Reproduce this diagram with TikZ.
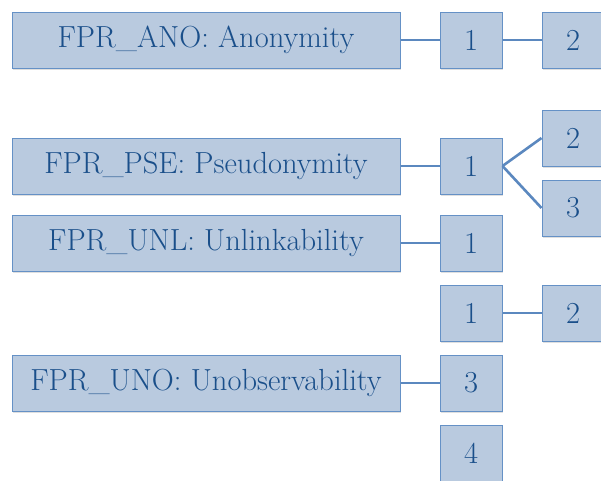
\documentclass[tikz,border=0pt]{standalone}
\usetikzlibrary{shadows}
\definecolor{boxfill}{HTML}{B9CADF}
\definecolor{boxline}{HTML}{6591C6}
\definecolor{boxtext}{HTML}{1A4F8A}
\definecolor{linkcol}{HTML}{5B88BF}
\begin{document}
\begin{tikzpicture}[x=1pt,y=-1pt,
  famBox/.style={draw=boxline,fill=boxfill,text=boxtext,line width=1pt,
    minimum width=388pt,minimum height=56pt,inner sep=0pt,
    font=\fontsize{30.5}{34}\selectfont,
    drop shadow={opacity=0.25,shadow xshift=1pt,shadow yshift=-1.5pt}},
  cmpBox/.style={famBox,minimum width=62pt},
  link/.style={draw=linkcol,line width=2.6pt}]
  \clip (0,0) rectangle (601,480);

  \node[famBox] (ano) at (206,40) {FPR\_ANO: Anonymity};
  \node[cmpBox] (ano1) at (471,40) {1};
  \node[cmpBox] (ano2) at (573,40) {2};

  \node[famBox] (pse) at (206,166) {FPR\_PSE: Pseudonymity};
  \node[cmpBox] (pse1) at (471,166) {1};
  \node[cmpBox] (pse2) at (573,138) {2};
  \node[cmpBox] (pse3) at (573,208) {3};

  \node[famBox] (unl) at (206,243) {FPR\_UNL: Unlinkability};
  \node[cmpBox] (unl1) at (471,243) {1};

  \node[cmpBox] (uno1) at (471,313) {1};
  \node[cmpBox] (uno2) at (573,313) {2};
  \node[famBox] (uno) at (206,383) {FPR\_UNO: Unobservability};
  \node[cmpBox] (uno3) at (471,383) {3};
  \node[cmpBox] (uno4) at (471,453) {4};

  \draw[link] (ano.east) -- (ano1.west);
  \draw[link] (ano1.east) -- (ano2.west);
  \draw[link] (pse.east) -- (pse1.west);
  \draw[link] (pse1.east) -- (pse2.west);
  \draw[link] (pse1.east) -- (pse3.west);
  \draw[link] (unl.east) -- (unl1.west);
  \draw[link] (uno1.east) -- (uno2.west);
  \draw[link] (uno.east) -- (uno3.west);
\end{tikzpicture}
\end{document}
